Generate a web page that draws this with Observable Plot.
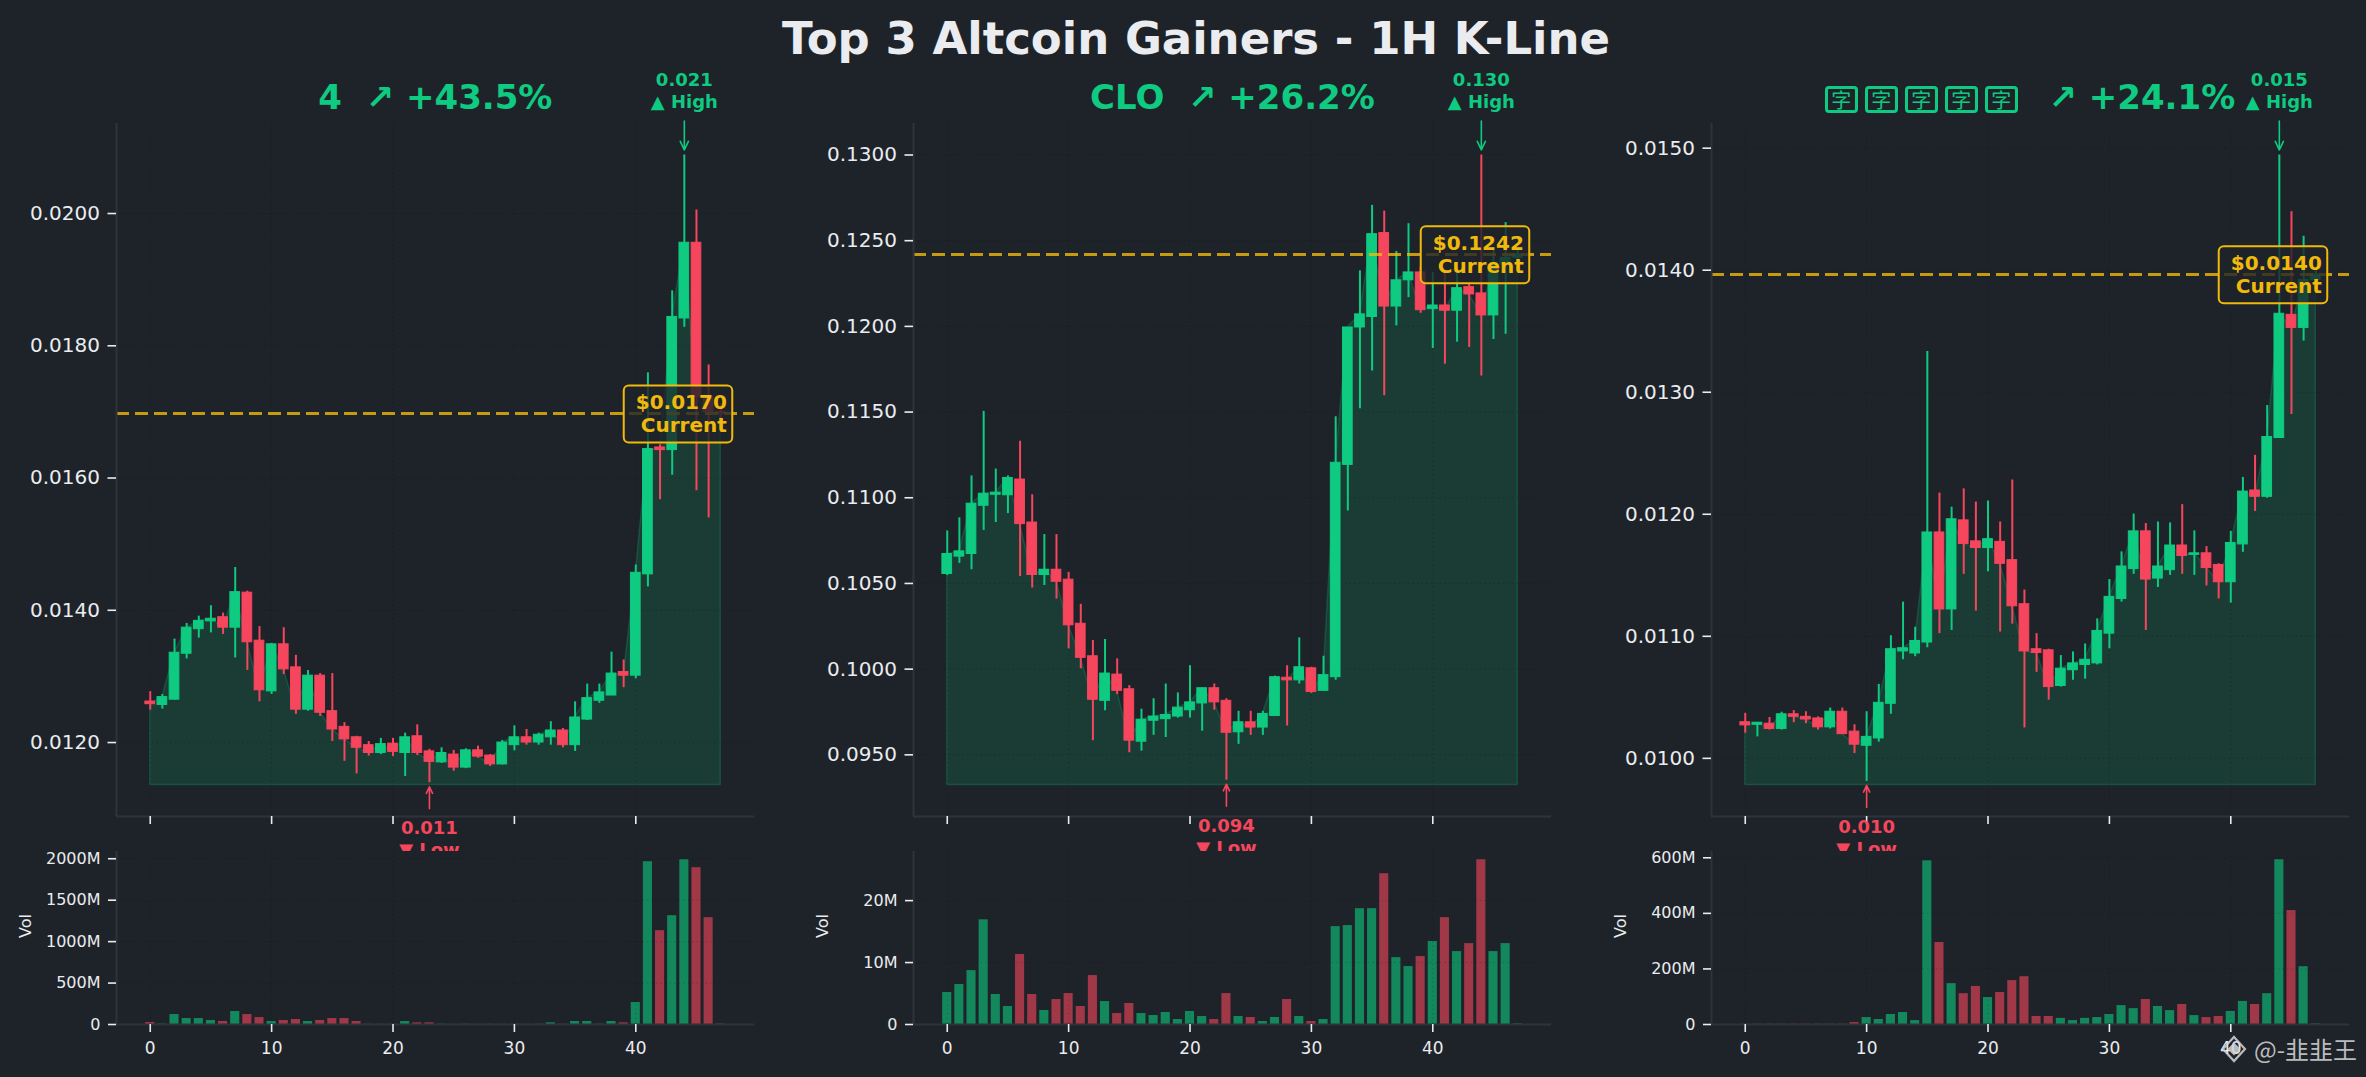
<!DOCTYPE html>
<html>
<head>
<meta charset="utf-8">
<script src="https://cdn.jsdelivr.net/npm/d3@7"></script>
<script src="https://cdn.jsdelivr.net/npm/@observablehq/plot@0.6"></script>
<style>
html,body{margin:0;padding:0;background:#1e2329;}
#root{position:relative;width:2366px;height:1077px;overflow:hidden;background:#1e2329;font-family:"DejaVu Sans",sans-serif;}
#title{position:absolute;left:0;width:2392px;top:16px;text-align:center;font-weight:bold;font-size:45px;line-height:45px;color:#eaecef;white-space:pre;}
.ptitle{position:absolute;top:80px;width:638px;text-align:center;font-weight:bold;font-size:34px;line-height:34px;color:#0ecb81;white-space:pre;font-family:"DejaVu Sans",sans-serif;}
.tofu{display:inline-block;box-sizing:border-box;width:33px;height:27px;border:3px solid #0ecb81;border-radius:4px;margin-right:7px;vertical-align:middle;font-family:"Noto Sans CJK SC",sans-serif;font-weight:normal;font-size:20px;line-height:21px;text-align:center;}
#wm{position:absolute;right:9px;top:1034px;display:flex;align-items:center;gap:7px;font-family:"Noto Sans CJK SC","DejaVu Sans",sans-serif;font-size:24px;line-height:30px;color:#d6d6d6;opacity:0.85;white-space:pre;}
</style>
</head>
<body>
<div id="root">
  <div id="title">Top 3 Altcoin Gainers - 1H K-Line</div>
  <div id="wm"><svg width="26" height="28" viewBox="0 0 26 28"><g fill="none" stroke="#d6d6d6" stroke-width="2.2"><path d="M13 2 L24 14 L13 26 L2 14 Z"/><path d="M13 9 L18 14 L13 19 L8 14 Z" fill="#d6d6d6"/></g></svg><span>@-韭韭王</span></div>
</div>
<script>
// ---------- data ----------
const panelNames = ["4", "CLO", "字字字字字"];
const panelChanges = ["+43.5%", "+26.2%", "+24.1%"];
const tofuName = [false, false, true];
const xTicks = [0, 10, 20, 30, 40];

// Panel 1: "4"
const open1 = [0.01262,0.012568,0.012648,0.013343,0.013714,0.013832,0.013895,0.013737,0.014266,0.01354,0.012774,0.013485,0.013137,0.012497,0.013011,0.012474,0.012237,0.012079,0.01196,0.011842,0.011984,0.011842,0.012095,0.011866,0.0117,0.011818,0.011621,0.011882,0.011803,0.011669,0.01196,0.012079,0.012,0.012079,0.012182,0.01196,0.012347,0.012632,0.012711,0.013066,0.013011,0.014543,0.016462,0.016422,0.018413,0.019558,0.01722,0.0170];
const high1 = [0.01277,0.012727,0.013564,0.013801,0.013911,0.014069,0.013958,0.014646,0.01429,0.013753,0.0135,0.013737,0.013319,0.01309,0.013043,0.013043,0.0123,0.012095,0.012016,0.012063,0.012063,0.012142,0.012268,0.011898,0.011921,0.011882,0.011906,0.011945,0.011818,0.012032,0.012253,0.012197,0.012142,0.012316,0.012213,0.012616,0.012884,0.012884,0.013366,0.013248,0.014685,0.017591,0.016501,0.018831,0.020885,0.020055,0.01771,0.01712];
const low1 = [0.01249,0.012505,0.01264,0.013264,0.013579,0.013658,0.013635,0.013279,0.01309,0.012616,0.012727,0.013027,0.012426,0.012474,0.012395,0.012016,0.011716,0.011526,0.011795,0.011818,0.011787,0.011487,0.011803,0.011392,0.011684,0.011566,0.011605,0.011763,0.011637,0.011661,0.011874,0.01196,0.01196,0.01196,0.011921,0.011866,0.012332,0.012593,0.012711,0.012829,0.012963,0.014353,0.015672,0.016043,0.018278,0.015807,0.015396,0.01688];
const close1 = [0.01258,0.012687,0.013358,0.013737,0.01384,0.013872,0.013737,0.014274,0.013516,0.01279,0.013485,0.013106,0.012497,0.013011,0.01245,0.012197,0.012047,0.011921,0.011842,0.011976,0.011858,0.012079,0.011842,0.011708,0.011842,0.011621,0.011882,0.011787,0.011669,0.012,0.012079,0.012,0.012118,0.012182,0.01196,0.012379,0.012671,0.012758,0.013043,0.013011,0.014567,0.016438,0.016422,0.018436,0.019558,0.01722,0.0170,0.016975];
const vol1 = [24,5,120,72,72,48,36,157,120,84,36,48,60,36,48,72,72,36,3,2,3,36,20,20,3,2,3,2,3,2,3,2,3,20,3,36,36,3,36,20,265,1964,1132,1313,1988,1892,1289,6];
const priceTicks1 = [0.012,0.014,0.016,0.018,0.020];
const volTicks1 = [0,500,1000,1500,2000];

// Panel 2: "CLO"
const open2 = [0.105555,0.106565,0.106718,0.109533,0.110175,0.110145,0.111062,0.108554,0.105494,0.1058,0.105219,0.102649,0.100752,0.098152,0.099682,0.098825,0.095765,0.09699,0.097081,0.097234,0.097601,0.097999,0.098886,0.098152,0.096316,0.096898,0.096591,0.097265,0.099498,0.099345,0.100048,0.098733,0.099529,0.111919,0.119935,0.120547,0.125442,0.121158,0.122688,0.123147,0.121005,0.121219,0.120914,0.12229,0.121923,0.120639,0.1236,0.1240];
const high2 = [0.108064,0.108829,0.111276,0.11504,0.111674,0.111276,0.113296,0.110175,0.10785,0.10785,0.105647,0.103781,0.10167,0.101731,0.100599,0.099039,0.097662,0.098274,0.099131,0.098611,0.100201,0.098886,0.099131,0.098274,0.09754,0.09754,0.09754,0.09959,0.100201,0.101823,0.100109,0.100752,0.114734,0.119935,0.123239,0.127063,0.126726,0.124371,0.125992,0.123453,0.123147,0.1232,0.1234,0.12245,0.13,0.1246,0.126053,0.1245];
const low2 = [0.105464,0.106167,0.1058,0.108095,0.108554,0.109074,0.105402,0.104729,0.104882,0.104087,0.10118,0.100018,0.095826,0.09757,0.098519,0.095123,0.095215,0.096133,0.096011,0.097142,0.097142,0.096377,0.097601,0.09352,0.095611,0.096133,0.096133,0.097234,0.096683,0.099131,0.09858,0.098733,0.099345,0.109227,0.115193,0.117395,0.115957,0.120026,0.121678,0.120761,0.118711,0.117793,0.119078,0.118772,0.1171,0.119231,0.119537,0.1237];
const close2 = [0.106718,0.106871,0.109655,0.110236,0.110297,0.111154,0.108462,0.105494,0.1058,0.105097,0.102557,0.10066,0.098213,0.099743,0.098733,0.095827,0.097051,0.097234,0.097326,0.097754,0.09806,0.098886,0.09806,0.096286,0.096898,0.096591,0.097387,0.099529,0.099345,0.100109,0.098671,0.099651,0.112041,0.119935,0.1207,0.12538,0.121158,0.122688,0.123147,0.120944,0.121219,0.120914,0.122229,0.121862,0.120639,0.1236,0.1240,0.1242];
const vol2 = [5.16,6.45,8.7,16.9,4.84,2.9,11.3,4.84,2.26,4.03,5.0,2.9,7.9,3.7,1.77,3.39,1.77,1.45,1.94,0.8,2.1,1.29,0.8,5.0,1.29,1.13,0.48,1.13,4.03,1.29,0.48,0.8,15.8,15.97,18.7,18.7,24.35,10.8,9.35,10.97,13.4,17.26,11.77,13.06,26.6,11.77,13.06,0.1];
const priceTicks2 = [0.095,0.100,0.105,0.110,0.115,0.120,0.125,0.130];
const volTicks2 = [0,10,20];

// Panel 3
const open3 = [0.010296,0.010275,0.010284,0.010241,0.010361,0.01034,0.010327,0.010254,0.010382,0.010219,0.010103,0.010163,0.010447,0.010876,0.010859,0.010949,0.011851,0.01122,0.01195,0.011778,0.011723,0.011774,0.011624,0.011263,0.010894,0.010885,0.010593,0.010722,0.010765,0.010778,0.011022,0.011306,0.011551,0.01186,0.011473,0.011542,0.011744,0.011667,0.01168,0.011585,0.011443,0.011753,0.012195,0.012143,0.012625,0.013634,0.013527,0.01392];
const high3 = [0.010369,0.010292,0.010335,0.010378,0.010391,0.010382,0.01034,0.010412,0.010412,0.010275,0.010382,0.010606,0.011005,0.01128,0.011074,0.013333,0.012174,0.012058,0.012208,0.0121,0.012109,0.011937,0.012281,0.011379,0.011022,0.010894,0.010842,0.010872,0.010937,0.011143,0.011465,0.011692,0.012002,0.011924,0.011937,0.011929,0.012079,0.011864,0.011735,0.011594,0.01186,0.012302,0.012483,0.012891,0.014944,0.01448,0.014278,0.0140];
const low3 = [0.010206,0.010176,0.010232,0.010232,0.010292,0.010284,0.010232,0.010241,0.010198,0.010039,0.009811,0.010133,0.010361,0.010808,0.010833,0.010906,0.011022,0.011048,0.011508,0.011207,0.011529,0.011035,0.0111,0.010249,0.010705,0.010477,0.010584,0.01064,0.010649,0.010765,0.010898,0.01128,0.011508,0.011048,0.0114,0.011499,0.011508,0.011499,0.011413,0.011306,0.011272,0.011688,0.012023,0.012131,0.012625,0.012818,0.013419,0.01388];
const close3 = [0.01027,0.010292,0.010241,0.010361,0.01034,0.010318,0.010254,0.010382,0.010198,0.010112,0.010176,0.010455,0.010894,0.010902,0.010962,0.011851,0.01122,0.011959,0.011757,0.011723,0.011796,0.011594,0.011246,0.010876,0.010863,0.010584,0.010735,0.010778,0.010808,0.011044,0.011323,0.011572,0.01186,0.011465,0.011572,0.011744,0.011658,0.01168,0.011559,0.011443,0.011765,0.012186,0.012143,0.012633,0.013643,0.013527,0.01392,0.013965];
const vol3 = [1,1,1,1,1,1,1,1,1,7,25,18,36,43,14,589,295,147,111,137,97,115,158,172,29,29,22,14,22,25,36,68,57,90,65,50,72,32,25,29,47,83,72,111,593,410,208,2];
const priceTicks3 = [0.010,0.011,0.012,0.013,0.014,0.015];
const volTicks3 = [0,200,400,600];

// ---------- style ----------
const GREEN = "#0ecb81", RED = "#f6465d", GOLD = "#f0b90b", BG = "#1e2329", SPINE = "#2e333b", TXT = "#eaecef";
const frameLefts = [116.4, 913.4, 1711];
const FRAME_W = 638, ML = 116, MR = 40;
const P_TOP = 123, P_FRAME_H = 693, P_BOTTOM = 14;
const V_TOP = 851, V_FRAME_H = 173, V_BOTTOM = 50;
const xDom = [-2.78, 49.78];
const root = document.getElementById("root");

function panelTitle(k) {
  const div = document.createElement("div");
  div.className = "ptitle";
  div.style.left = frameLefts[k] + "px";
  if (tofuName[k]) {
    for (const ch of panelNames[k]) {
      const s = document.createElement("span");
      s.className = "tofu";
      s.textContent = ch;
      div.appendChild(s);
    }
    div.appendChild(document.createTextNode("  ↗ " + panelChanges[k]));
  } else {
    div.textContent = panelNames[k] + "  ↗ " + panelChanges[k];
  }
  root.appendChild(div);
}

function drawPanel(k, open, high, low, close, vol, priceTicks, volTicks) {
  const n = open.length;
  const rows = d3.range(n).map(i => ({i, o: open[i], h: high[i], l: low[i], c: close[i], v: vol[i], up: close[i] >= open[i]}));
  const ups = rows.filter(d => d.up), downs = rows.filter(d => !d.up);
  const lo = d3.min(low), hi = d3.max(high);
  const base = lo * 0.997;
  const span = hi - base;
  const yDom = [base - 0.05 * span, hi + 0.05 * span];
  const perPx = (yDom[1] - yDom[0]) / P_FRAME_H;
  const iHi = d3.maxIndex(high), iLo = d3.minIndex(low);
  const cur = close[n - 1];
  const left = frameLefts[k] - ML;
  const common = {fontFamily: "DejaVu Sans"};

  const body = (data, color) => Plot.rect(data, {
    x1: d => d.i - 0.4, x2: d => d.i + 0.4,
    y1: d => Math.min(d.o, d.c), y2: d => Math.max(d.o, d.c),
    fill: color, stroke: color, strokeWidth: 1
  });
  const wick = (data, color) => Plot.ruleX(data, {x: "i", y1: "l", y2: "h", stroke: color, strokeWidth: 2});

  const price = Plot.plot({
    width: ML + FRAME_W + MR, height: P_TOP + P_FRAME_H + P_BOTTOM,
    marginLeft: ML, marginRight: MR, marginTop: P_TOP, marginBottom: P_BOTTOM,
    x: {domain: xDom, label: null, axis: null},
    y: {domain: yDom, label: null, axis: null},
    style: {background: "transparent", overflow: "visible", color: TXT, fontFamily: "DejaVu Sans"},
    marks: [
      Plot.areaY(rows, {x: "i", y1: base, y2: "c", fill: GREEN, fillOpacity: 0.15, stroke: GREEN, strokeOpacity: 0.22, strokeWidth: 1.5}),
      Plot.gridY({ticks: priceTicks, stroke: "#000", strokeOpacity: 0.18, strokeDasharray: "1.5,3"}),
      Plot.gridX({ticks: xTicks, stroke: "#000", strokeOpacity: 0.18, strokeDasharray: "1.5,3"}),
      wick(ups, GREEN), wick(downs, RED),
      body(ups, GREEN), body(downs, RED),
      Plot.ruleY([cur], {stroke: GOLD, strokeOpacity: 0.8, strokeWidth: 3, strokeDasharray: "13,6"}),
      Plot.ruleX([xDom[0]], {stroke: SPINE, strokeWidth: 2}),
      Plot.ruleY([yDom[0]], {stroke: SPINE, strokeWidth: 2}),
      Plot.axisY({ticks: priceTicks, tickFormat: d => d.toFixed(4), tickSize: 8.5, tickPadding: 8, fontSize: 20, color: TXT, strokeWidth: 1.6, label: null, ...common}),
      Plot.axisX({ticks: xTicks, tickFormat: () => "", tickSize: 8, tickPadding: 0, color: TXT, strokeWidth: 1.6, label: null}),
      // high annotation
      Plot.arrow([iHi], {x: d => d, y1: d => high[d] + 34 * perPx, y2: d => high[d] + 5 * perPx, stroke: GREEN, strokeWidth: 1.6, headLength: 9, headAngle: 50}),
      Plot.text([iHi], {x: d => d, y: d => high[d], text: d => `${high[d].toFixed(3)}\n▲ High`, lineAnchor: "bottom", dy: -47, fill: GREEN, fontWeight: "bold", fontSize: 18, lineHeight: 1.25, ...common}),
      // low annotation
      Plot.arrow([iLo], {x: d => d, y1: d => low[d] - 26 * perPx, y2: d => low[d] - 4 * perPx, stroke: RED, strokeWidth: 1.6, headLength: 9, headAngle: 50}),
      Plot.text([iLo], {x: d => d, y: d => low[d], text: d => `${low[d].toFixed(3)}\n▼ Low`, lineAnchor: "top", dy: 36, fill: RED, fontWeight: "bold", fontSize: 18, lineHeight: 1.22, ...common}),
      // current label
      Plot.text([cur], {x: (n - 1) + 0.5, y: d => d, text: d => `$${d.toFixed(4)}\nCurrent`, textAnchor: "end", lineAnchor: "middle", fill: GOLD, fontWeight: "bold", fontSize: 20, lineHeight: 1.15, ...common})
    ]
  });
  price.style.position = "absolute";
  price.style.left = left + "px";
  price.style.top = "0px";
  price.style.maxWidth = "none";
  root.appendChild(price);

  // rounded box behind current label
  const t = Array.from(price.querySelectorAll("text")).find(el => el.textContent.includes("Current"));
  if (t) {
    const bb = t.getBBox();
    const r = document.createElementNS("http://www.w3.org/2000/svg", "rect");
    r.setAttribute("x", bb.x - 12);
    r.setAttribute("y", bb.y - 5);
    r.setAttribute("width", bb.width + 17);
    r.setAttribute("height", bb.height + 10);
    r.setAttribute("rx", 5);
    r.setAttribute("fill", BG);
    r.setAttribute("fill-opacity", 0.8);
    r.setAttribute("stroke", GOLD);
    r.setAttribute("stroke-width", 2);
    if (t.getAttribute("transform")) r.setAttribute("transform", t.getAttribute("transform"));
    t.parentNode.insertBefore(r, t);
  }

  const vmax = d3.max(vol) * 1.05;
  const vbar = (data, color) => Plot.rect(data, {x1: d => d.i - 0.375, x2: d => d.i + 0.375, y1: 0, y2: "v", fill: color, fillOpacity: 0.6});
  const volume = Plot.plot({
    width: ML + FRAME_W + MR, height: V_FRAME_H + V_BOTTOM,
    marginLeft: ML, marginRight: MR, marginTop: 0, marginBottom: V_BOTTOM,
    x: {domain: xDom, label: null, axis: null},
    y: {domain: [0, vmax], label: null, axis: null},
    style: {background: BG, overflow: "visible", color: TXT, fontFamily: "DejaVu Sans"},
    marks: [
      vbar(ups, GREEN), vbar(downs, RED),
      Plot.gridY({ticks: volTicks, stroke: "#000", strokeOpacity: 0.18, strokeDasharray: "1.5,3"}),
      Plot.gridX({ticks: xTicks, stroke: "#000", strokeOpacity: 0.18, strokeDasharray: "1.5,3"}),
      Plot.ruleX([xDom[0]], {stroke: SPINE, strokeWidth: 2}),
      Plot.ruleY([0], {stroke: SPINE, strokeWidth: 2}),
      Plot.axisY({ticks: volTicks, tickFormat: d => d === 0 ? "0" : d + "M", tickSize: 8, tickPadding: 8, fontSize: 16, color: TXT, strokeWidth: 1.6, label: null, ...common}),
      Plot.axisX({ticks: xTicks, tickFormat: d => String(d), tickSize: 8, tickPadding: 9, fontSize: 17, color: TXT, strokeWidth: 1.6, label: null, ...common}),
      Plot.text(["Vol"], {frameAnchor: "left", dx: -91, rotate: -90, fill: TXT, fontSize: 16, ...common})
    ]
  });
  volume.style.position = "absolute";
  volume.style.left = left + "px";
  volume.style.top = V_TOP + "px";
  volume.style.maxWidth = "none";
  root.appendChild(volume);

  panelTitle(k);
}

drawPanel(0, open1, high1, low1, close1, vol1, priceTicks1, volTicks1);
drawPanel(1, open2, high2, low2, close2, vol2, priceTicks2, volTicks2);
drawPanel(2, open3, high3, low3, close3, vol3, priceTicks3, volTicks3);
// keep watermark on top
root.appendChild(document.getElementById("wm"));
</script>
</body>
</html>
